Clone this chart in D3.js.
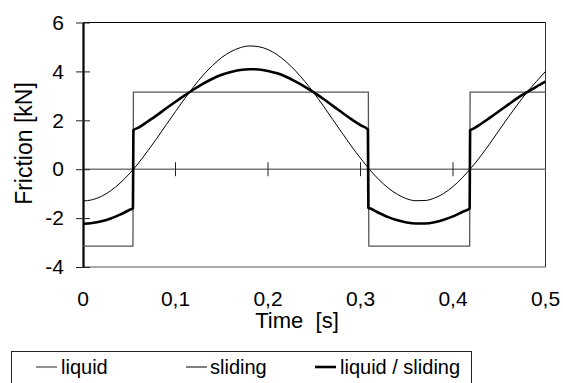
<!DOCTYPE html>
<html>
<head>
<meta charset="utf-8">
<script src="https://cdn.jsdelivr.net/npm/d3@7"></script>
<style>
  body { margin: 0; background: #fff; }
  text { font-family: "Liberation Sans", Arial, sans-serif; fill: #000; }
</style>
</head>
<body>
<script>
// Time axis ticks and friction axis ticks
var xTicks = [0, 0.1, 0.2, 0.3, 0.4, 0.5];
var xTickLabels = ["0", "0,1", "0,2", "0,3", "0,4", "0,5"];
var yTicks = [-4, -2, 0, 2, 4, 6];

// liquid (square wave)
var liquidT = [0, 0.054, 0.0545, 0.3085, 0.309, 0.418, 0.4185, 0.5];
var liquidV = [-3.15, -3.15, 3.15, 3.15, -3.15, -3.15, 3.15, 3.15];

// sliding (thin curve), every 0.01 s
var slidingT = d3.range(0, 51).map(function(i) { return i / 100; });
var slidingV = [-1.30, -1.25, -1.11, -0.88, -0.57, -0.19, 0.25, 0.75, 1.27, 1.82,
                 2.36, 2.89, 3.39, 3.85, 4.24, 4.57, 4.81, 4.97, 5.04, 5.01,
                 4.89, 4.68, 4.38, 4.01, 3.58, 3.10, 2.58, 2.03, 1.49, 0.95,
                 0.45, -0.02, -0.43, -0.77, -1.03, -1.21, -1.29, -1.28, -1.18, -0.99,
                -0.71, -0.35, 0.07, 0.54, 1.06, 1.60, 2.14, 2.66, 3.15, 3.58,
                 4.00];

// liquid / sliding (thick curve)
var bothT = [0, 0.01, 0.02, 0.03, 0.04, 0.05, 0.054,
             0.0545, 0.06, 0.07, 0.08, 0.09, 0.10, 0.11, 0.12, 0.13, 0.14, 0.15, 0.16, 0.17,
             0.18, 0.19, 0.20, 0.21, 0.22, 0.23, 0.24, 0.25, 0.26, 0.27, 0.28, 0.29, 0.30, 0.308,
             0.3085, 0.31, 0.32, 0.33, 0.34, 0.35, 0.36, 0.37, 0.38, 0.39, 0.40, 0.41, 0.418,
             0.4185, 0.42, 0.43, 0.44, 0.45, 0.46, 0.47, 0.48, 0.49, 0.50];
var bothV = [-2.23, -2.20, -2.13, -2.02, -1.86, -1.67, -1.60,
              1.60, 1.70, 1.95, 2.21, 2.49, 2.76, 3.02, 3.27, 3.50, 3.70, 3.86, 3.98, 4.06,
              4.09, 4.08, 4.02, 3.92, 3.77, 3.58, 3.37, 3.13, 2.87, 2.59, 2.32, 2.05, 1.80, 1.62,
             -1.58, -1.60, -1.79, -1.96, -2.09, -2.18, -2.22, -2.22, -2.17, -2.07, -1.93, -1.75, -1.60,
              1.60, 1.62, 1.85, 2.11, 2.38, 2.65, 2.92, 3.15, 3.37, 3.58];

var seriesNames = ["liquid", "sliding", "liquid / sliding"];

// Set the dimensions of the canvas / graph
var width = 563, height = 383;
var plot = {left: 83, top: 22.5, right: 545.5, bottom: 267};

var x = d3.scaleLinear().domain([0, 0.5]).range([plot.left, plot.right]);
var y = d3.scaleLinear().domain([-4, 6]).range([plot.bottom, plot.top]);

var svg = d3.select("body")
    .append("svg")
        .attr("width", width)
        .attr("height", height);

// plot frame
svg.append("line")
    .attr("x1", plot.left).attr("x2", plot.right)
    .attr("y1", plot.top).attr("y2", plot.top)
    .attr("stroke", "#000").attr("stroke-width", 1);
svg.append("line")
    .attr("x1", plot.right).attr("x2", plot.right)
    .attr("y1", plot.top).attr("y2", plot.bottom)
    .attr("stroke", "#333").attr("stroke-width", 1);
svg.append("line")
    .attr("x1", plot.left).attr("x2", plot.right)
    .attr("y1", plot.bottom).attr("y2", plot.bottom)
    .attr("stroke", "#555").attr("stroke-width", 1.2);

// zero line with crossing ticks
svg.append("line")
    .attr("x1", plot.left).attr("x2", plot.right)
    .attr("y1", y(0)).attr("y2", y(0))
    .attr("stroke", "#777").attr("stroke-width", 1.4);
svg.selectAll(".xtick")
    .data(xTicks.slice(1, -1))
    .enter().append("line")
        .attr("class", "xtick")
        .attr("x1", function(d) { return x(d); })
        .attr("x2", function(d) { return x(d); })
        .attr("y1", y(0) - 7).attr("y2", y(0) + 7)
        .attr("stroke", "#222").attr("stroke-width", 1);

// Y axis (crossing ticks)
var yAxis = d3.axisLeft(y)
    .tickValues(yTicks)
    .tickSizeInner(7)
    .tickSizeOuter(0)
    .tickFormat(function(d) { return d; });
var gy = svg.append("g")
    .attr("transform", "translate(" + plot.left + ",0)")
    .call(yAxis);
gy.select(".domain").attr("stroke", "#000").attr("stroke-width", 2.2);
gy.selectAll(".tick line")
    .attr("x1", -7).attr("x2", 7)
    .attr("stroke", "#222").attr("stroke-width", 1);
gy.selectAll(".tick text")
    .attr("x", -19)
    .style("font-size", "21px")
    .style("font-family", "'Liberation Sans', Arial, sans-serif")
    .attr("fill", "#000");

// X tick labels
svg.selectAll(".xlab")
    .data(xTicks)
    .enter().append("text")
        .attr("class", "xlab")
        .attr("x", function(d) { return x(d); })
        .attr("y", 306)
        .attr("text-anchor", "middle")
        .style("font-size", "21px")
        .text(function(d, i) { return xTickLabels[i]; });

// axis titles
svg.append("text")
    .attr("x", 297).attr("y", 328)
    .attr("text-anchor", "middle")
    .style("font-size", "22px")
    .style("white-space", "pre")
    .text("Time  [s]");
svg.append("text")
    .attr("transform", "translate(32," + 143.5 + ") rotate(-90)")
    .attr("text-anchor", "middle")
    .style("font-size", "23px")
    .text("Friction [kN]");

// series
var line = d3.line()
    .x(function(d) { return x(d[0]); })
    .y(function(d) { return y(d[1]); });
var smooth = d3.line()
    .curve(d3.curveMonotoneX)
    .x(function(d) { return x(d[0]); })
    .y(function(d) { return y(d[1]); });

svg.append("path")
    .attr("d", line(d3.zip(liquidT, liquidV)))
    .attr("fill", "none").attr("stroke", "#555").attr("stroke-width", 1.3);
svg.append("path")
    .attr("d", smooth(d3.zip(slidingT, slidingV)))
    .attr("fill", "none").attr("stroke", "#000").attr("stroke-width", 1);
svg.append("path")
    .attr("d", smooth(d3.zip(bothT, bothV)))
    .attr("fill", "none").attr("stroke", "#000").attr("stroke-width", 2.6)
    .attr("stroke-linejoin", "round");

// legend
var legendStyles = [
    {stroke: "#555", w: 1.3, x: 36, tx: 61},
    {stroke: "#000", w: 1, x: 186, tx: 210},
    {stroke: "#000", w: 2.6, x: 315, tx: 340}
];
svg.append("rect")
    .attr("x", 11.5).attr("y", 351.5)
    .attr("width", 460).attr("height", 40)
    .attr("fill", "none").attr("stroke", "#222").attr("stroke-width", 1);
var items = svg.selectAll(".leg")
    .data(seriesNames)
    .enter().append("g")
        .attr("class", "leg");
items.append("line")
    .attr("x1", function(d, i) { return legendStyles[i].x; })
    .attr("x2", function(d, i) { return legendStyles[i].x + 21; })
    .attr("y1", 367).attr("y2", 367)
    .attr("stroke", function(d, i) { return legendStyles[i].stroke; })
    .attr("stroke-width", function(d, i) { return legendStyles[i].w; });
items.append("text")
    .attr("x", function(d, i) { return legendStyles[i].tx; })
    .attr("y", 374)
    .style("font-size", "20px")
    .text(function(d) { return d; });
</script>
</body>
</html>
